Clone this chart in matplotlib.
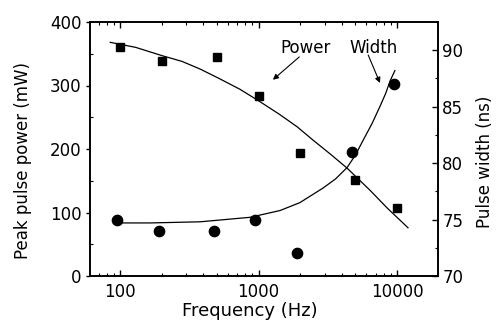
import matplotlib
matplotlib.use("Agg")
import matplotlib.pyplot as plt
from matplotlib.ticker import FixedLocator, FixedFormatter, LogLocator, NullFormatter, MultipleLocator

plt.rcParams['font.family'] = ['DejaVu Sans']

# Data
power_freq = [100, 200, 500, 1000, 2000, 5000, 10000]
power_mw = [360, 339, 345, 283, 194, 151, 107]

width_freq = [95, 190, 475, 950, 1900, 4750, 9500]
width_ns = [75, 74, 74, 75, 72, 81, 87]

# Fit curves
power_fit_freq = [85, 130, 201, 280, 378, 520, 735, 1000, 1430, 1900, 2475, 3300, 4355, 5300, 6384, 8500, 12000]
power_fit_mw = [368, 360, 347, 338, 326, 311, 294, 276, 254, 235, 214, 192, 170, 152, 135, 107, 76]

width_fit_freq = [97, 165, 378, 870, 1430, 1990, 2930, 3600, 4355, 5000, 5680, 6600, 7520, 8300, 8930, 9660]
width_fit_ns = [74.7, 74.7, 74.8, 75.2, 75.8, 76.5, 77.8, 78.6, 79.6, 80.7, 82.0, 83.5, 85.0, 86.2, 87.3, 88.2]

FS = 12

fig = plt.figure(figsize=(4.96, 3.28), dpi=100)
ax = fig.add_axes([90/496, 52/328, 348/496, 254/328])
ax2 = ax.twinx()

ax.plot(power_freq, power_mw, 's', color='black', markersize=6.2, zorder=3)
ax.plot(power_fit_freq, power_fit_mw, '-', color='black', lw=0.9)
ax2.plot(width_freq, width_ns, 'o', color='black', markersize=7.4, zorder=3)
ax2.plot(width_fit_freq, width_fit_ns, '-', color='black', lw=0.9)

ax.set_xscale('log')
ax.set_xlim(60.7, 19770)
ax.set_ylim(0, 400)
ax2.set_ylim(70, 92.5)

ax.xaxis.set_major_locator(FixedLocator([100, 1000, 10000]))
ax.xaxis.set_major_formatter(FixedFormatter(['100', '1000', '10000']))
ax.xaxis.set_minor_locator(LogLocator(base=10, subs=range(2, 10)))
ax.xaxis.set_minor_formatter(NullFormatter())
ax.yaxis.set_major_locator(MultipleLocator(100))
ax.yaxis.set_minor_locator(MultipleLocator(50))
ax2.yaxis.set_major_locator(MultipleLocator(5))
ax2.yaxis.set_minor_locator(MultipleLocator(2.5))

for a in (ax, ax2):
    for s in a.spines.values():
        s.set_linewidth(1.2)

ax.tick_params(axis='x', which='both', direction='in', top=True, labelsize=FS, pad=5)
ax.tick_params(axis='x', which='major', length=4, width=1)
ax.tick_params(axis='x', which='minor', length=2.5, width=0.8)
ax.tick_params(axis='y', which='major', direction='out', length=3, width=1, labelsize=FS, pad=3)
ax.tick_params(axis='y', which='minor', direction='in', length=2, width=0.8)
ax2.tick_params(axis='y', which='major', direction='in', length=4, width=1, labelsize=FS, pad=3)
ax2.tick_params(axis='y', which='minor', direction='in', length=2, width=0.8)

ax.set_xlabel('Frequency (Hz)', fontsize=13, labelpad=1)
ax.set_ylabel('Peak pulse power (mW)', fontsize=FS, labelpad=13)
ax2.set_ylabel('Pulse width (ns)', fontsize=FS, labelpad=9.5)
ax.xaxis.label.set_x(0.46)
ax.yaxis.label.set_y(0.455)
ax2.yaxis.label.set_y(0.45)

ax.text(1430, 359, 'Power', fontsize=FS, va='center', ha='left')
ax.text(4565, 359, 'Width', fontsize=FS, va='center', ha='left')
ax.annotate('', xy=(1270, 309), xytext=(1969, 345),
            arrowprops=dict(arrowstyle='-|>', lw=0.8, color='black', mutation_scale=8,
                            shrinkA=0, shrinkB=0))
ax.annotate('', xy=(7535, 304), xytext=(6195, 348),
            arrowprops=dict(arrowstyle='-|>', lw=0.8, color='black', mutation_scale=8,
                            shrinkA=0, shrinkB=0))

fig.savefig('out.png', dpi=100)
